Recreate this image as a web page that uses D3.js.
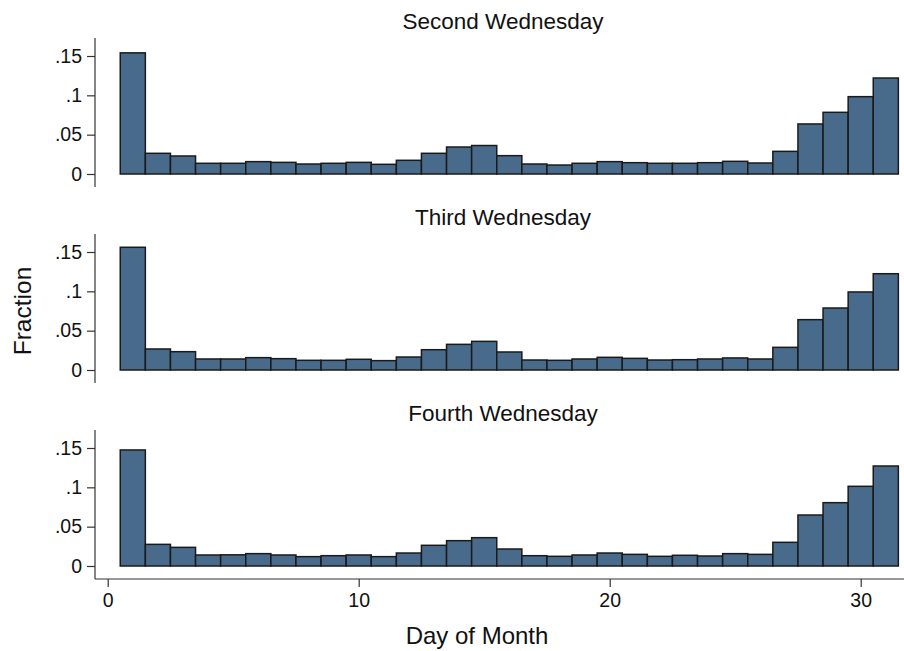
<!DOCTYPE html>
<html>
<head>
<meta charset="utf-8">
<script src="https://cdn.jsdelivr.net/npm/d3@7"></script>
<style>
  html, body { margin: 0; padding: 0; background: #fff; }
  svg { display: block; font-family: "Liberation Sans", Arial, sans-serif; }
</style>
</head>
<body>
<svg id="chart" width="904" height="651"></svg>
<script>
// Days of the month (histogram bins, width 1, centred on each day)
const days = d3.range(1, 32);

// Panel titles
const panels = ["Second Wednesday", "Third Wednesday", "Fourth Wednesday"];

// Fraction of observations per day, one array per panel
const secondWed = [0.154, 0.0263, 0.0229, 0.0136, 0.0136, 0.0157, 0.0148, 0.0127, 0.0136, 0.0148,
  0.0123, 0.0174, 0.0263, 0.0343, 0.0362, 0.0233, 0.0127, 0.0114, 0.0136, 0.0157,
  0.0144, 0.0136, 0.0136, 0.0144, 0.0161, 0.014, 0.0288, 0.0636, 0.0784, 0.0983, 0.122];
const thirdWed = [0.156, 0.0267, 0.0233, 0.014, 0.014, 0.0157, 0.0144, 0.0123, 0.0123, 0.0136,
  0.0119, 0.0165, 0.0258, 0.0326, 0.0364, 0.0229, 0.0127, 0.0123, 0.014, 0.0161,
  0.0148, 0.0127, 0.0131, 0.014, 0.0153, 0.014, 0.0288, 0.064, 0.0788, 0.0992, 0.1224];
const fourthWed = [0.1475, 0.0275, 0.0237, 0.014, 0.0142, 0.0157, 0.014, 0.0119, 0.0131, 0.014,
  0.0119, 0.0165, 0.0263, 0.0322, 0.036, 0.0216, 0.0131, 0.0123, 0.014, 0.0165,
  0.0148, 0.0123, 0.0136, 0.0127, 0.0157, 0.0148, 0.0301, 0.0648, 0.0805, 0.1013, 0.1271];
const series = [secondWed, thirdWed, fourthWed];

// Axis ticks
const yTicks = [0, 0.05, 0.1, 0.15];
const yTickLabels = ["0", ".05", ".1", ".15"];
const xTicks = [0, 10, 20, 30];

const svg = d3.select("#chart");
const barFill = "#486b8c";
const barStroke = "#1a1a1a";
const axisColor = "#333";

const plotLeft = 95, plotRight = 904;
const x = d3.scaleLinear().domain([0, 30]).range([107.7, 860.7]);

const panelStep = 196;
const baseline0 = 174;

panels.forEach((title, i) => {
  const base = baseline0 + i * panelStep;
  const y = d3.scaleLinear().domain([0, 0.15]).range([base, base - 118]);
  const g = svg.append("g");

  // Panel title
  g.append("text")
    .attr("x", 503).attr("y", y(0.15) - 27)
    .attr("text-anchor", "middle")
    .attr("font-size", 22.5)
    .attr("fill", "#111")
    .text(title);

  // Bars
  g.selectAll("rect")
    .data(days.map((d, k) => ({ day: d, v: series[i][k] })))
    .join("rect")
    .attr("x", d => x(d.day - 0.5))
    .attr("width", d => x(d.day + 0.5) - x(d.day - 0.5))
    .attr("y", d => y(d.v))
    .attr("height", d => y(0) - y(d.v))
    .attr("fill", barFill)
    .attr("stroke", barStroke)
    .attr("stroke-width", 1.5);

  // Y axis
  const yAxis = d3.axisLeft(y)
    .tickValues(yTicks)
    .tickFormat((d, k) => yTickLabels[k])
    .tickSize(8)
    .tickPadding(5);
  const ya = g.append("g")
    .attr("transform", `translate(${plotLeft},0)`)
    .call(yAxis);
  ya.select(".domain").remove();
  ya.selectAll(".tick line").attr("stroke", axisColor).attr("stroke-width", 1.2);
  ya.selectAll(".tick text").attr("font-size", 19.5).attr("fill", "#111")
    .attr("font-family", "Liberation Sans, Arial, sans-serif");
  g.append("line")
    .attr("x1", plotLeft).attr("x2", plotLeft)
    .attr("y1", y(0.1729)).attr("y2", y(-0.0165))
    .attr("stroke", axisColor).attr("stroke-width", 1.2);

  // X axis on the bottom panel only
  if (i === panels.length - 1) {
    const axisY = y(-0.0165);
    const xa = g.append("g")
      .attr("transform", `translate(0,${axisY})`)
      .call(d3.axisBottom(x).tickValues(xTicks).tickFormat(d3.format("d")).tickSize(8).tickPadding(6));
    xa.select(".domain").remove();
    xa.selectAll(".tick line").attr("stroke", axisColor).attr("stroke-width", 1.2);
    xa.selectAll(".tick text").attr("font-size", 19.5).attr("fill", "#111")
      .attr("font-family", "Liberation Sans, Arial, sans-serif");
    g.append("line")
      .attr("x1", plotLeft).attr("x2", plotRight)
      .attr("y1", axisY).attr("y2", axisY)
      .attr("stroke", axisColor).attr("stroke-width", 1.2);
  }
});

// Axis titles
svg.append("text")
  .attr("transform", "translate(31,311) rotate(-90)")
  .attr("text-anchor", "middle")
  .attr("font-size", 24.5)
  .attr("fill", "#111")
  .text("Fraction");

svg.append("text")
  .attr("x", 477).attr("y", 644)
  .attr("text-anchor", "middle")
  .attr("font-size", 24)
  .attr("fill", "#111")
  .text("Day of Month");
</script>
</body>
</html>
